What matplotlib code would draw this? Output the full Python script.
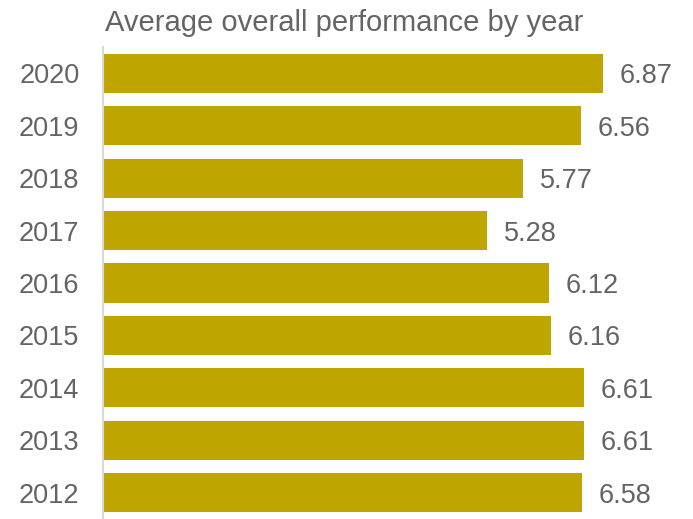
import matplotlib.pyplot as plt

years = ['2012', '2013', '2014', '2015', '2016', '2017', '2018', '2019', '2020']
scores = [6.58, 6.61, 6.61, 6.16, 6.12, 5.28, 5.77, 6.56, 6.87]

plt.rcParams['font.family'] = ['Liberation Sans', 'DejaVu Sans']
grey = '#646464'

fig = plt.figure(figsize=(6.93, 5.19), dpi=100)
ax = fig.add_axes([103 / 693, 0, 1 - 103 / 693, 472 / 519])

pos = range(len(years))
ax.barh(pos, scores, height=0.745, color='#BFA500')

for p, v in zip(pos, scores):
    ax.annotate(f'{v:.2f}', (v, p), xytext=(12, 0), textcoords='offset points',
                ha='left', va='center_baseline', fontsize=19.5, color=grey)

ax.set_yticks(list(pos))
ax.set_yticklabels(years, fontsize=19.5, color=grey, va='center_baseline')
ax.tick_params(axis='y', length=0, pad=17)
ax.set_xticks([])
ax.set_xlim(0, 590 / 72.8)
ax.set_ylim(-0.5, 8.5)

for s in ['top', 'right', 'bottom']:
    ax.spines[s].set_visible(False)
ax.spines['left'].set_color('#d9d9d9')
ax.spines['left'].set_linewidth(1.5)

fig.text(105 / 693, 1 - 31 / 519, 'Average overall performance by year',
         fontsize=21, color=grey, ha='left', va='baseline')

fig.savefig('out.png', dpi=100)
